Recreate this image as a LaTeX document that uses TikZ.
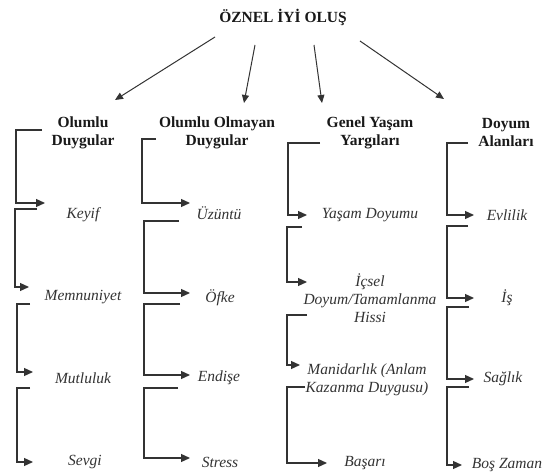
\documentclass[tikz,border=0pt]{standalone}
\usepackage{fontspec}
\setmainfont{Liberation Serif}
\usetikzlibrary{arrows.meta}

\def\txtsize{\fontsize{15.5}{18}\selectfont}

\begin{document}
\begin{tikzpicture}[x=1pt,y=-1pt,draw=black!80,line width=1.2pt,>={Triangle[length=9pt,width=8pt]}]
    \tikzstyle{head}=[font=\txtsize\bfseries,align=center,inner sep=0pt,text=black!90]
    \tikzstyle{item}=[font=\txtsize\itshape,align=center,inner sep=0pt,text=black!80]
    \tikzstyle{link}=[->,line width=1pt,>={Triangle[length=8pt,width=7pt]}]
    \tikzstyle{brk}=[->]

    \useasboundingbox (0,0) rectangle (542,473);

    \node[head] (T) at (283,17) {ÖZNEL İYİ OLUŞ};

    \node[head] (H-1) at (83,133) {Olumlu\\Duygular};
    \node[head] (H-2) at (217,133) {Olumlu Olmayan\\Duygular};
    \node[head] (H-3) at (370,133) {Genel Yaşam\\Yargıları};
    \node[head] (H-4) at (506,133) {Doyum\\Alanları};

    % arrows from the title
    \foreach \sx/\sy/\ex/\ey [count=\i] in {215/37/115/100, 255/45/244/103, 314/45/322/103, 360/41/444/99}{
        \coordinate (T-\i) at (\sx,\sy);
        \coordinate (Hin-\i) at (\ex,\ey);
        \draw[link] (T-\i) -- (Hin-\i);
    }

    % first column
    \node[item] (OD-1) at (83,215) {Keyif};
    \node[item] (OD-2) at (83,297) {Memnuniyet};
    \node[item] (OD-3) at (83,378) {Mutluluk};
    \node[item] (OD-4) at (85,462) {Sevgi};

    % second column
    \node[item] (OO-1) at (219,213) {Üzüntü};
    \node[item] (OO-2) at (220,298) {Öfke};
    \node[item] (OO-3) at (219,378) {Endişe};
    \node[item] (OO-4) at (220,462) {Stress};

    % third column
    \node[item] (GY-1) at (370,215) {Yaşam Doyumu};
    \node[item] (GY-2) at (370,298) {İçsel\\Doyum/Tamamlanma\\Hissi};
    \node[item] (GY-3) at (367,380) {Manidarlık (Anlam\\Kazanma Duygusu)};
    \node[item] (GY-4) at (365,463) {Başarı};

    % fourth column
    \node[item] (DA-1) at (507,215) {Evlilik};
    \node[item] (DA-2) at (507,298) {İş};
    \node[item] (DA-3) at (503,379) {Sağlık};
    \node[item] (DA-4) at (507,465) {Boş Zaman};

    % brackets: stub start / vertical x / arrow y / arrow tip
    \foreach \sx/\sy/\vx/\ey/\ex [count=\i] in {
        42/130/16/203/45, 37/209/15/287/29, 30/304/17/372/33, 30/388/17/462/33,
        156/139/142/203/190, 179/221/144/293/190, 180/304/144/375/190, 178/388/144/458/190,
        320/143/288/215/307, 302/227/287/282/307, 307/315/287/365/300, 305/387/287/463/327,
        468/143/447/215/474, 468/226/447/298/474, 469/307/447/379/474, 469/387/447/465/462}{
        \coordinate (s-\i) at (\sx,\sy);
        \coordinate (e-\i) at (\ex,\ey);
        \draw[brk] (s-\i) -- ++({\vx-\sx},0) |- (e-\i);
    }
\end{tikzpicture}
\end{document}
